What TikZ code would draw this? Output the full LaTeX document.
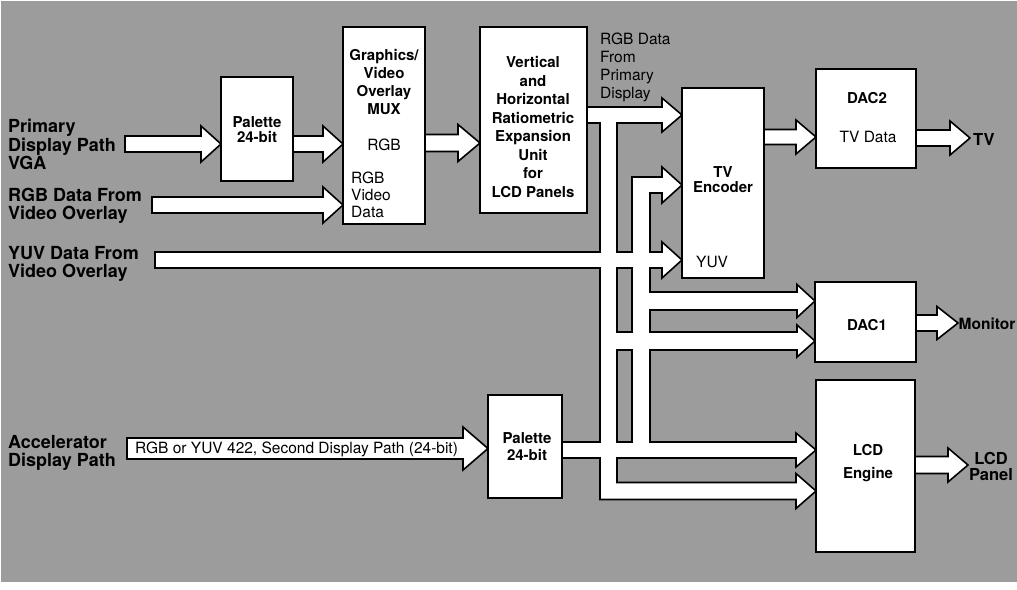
\documentclass[tikz,border=0pt]{standalone}
\usepackage{fontspec}
\setmainfont{TeX Gyre Heros}
\usetikzlibrary{calc}
\definecolor{ink}{RGB}{0,0,0}
\definecolor{paper}{RGB}{255,255,255}
\definecolor{screen}{RGB}{156,156,156}
\tikzset{
  blk/.style={inner sep=0pt, outer sep=0pt, anchor=north west},
  boxframe/.style={draw=ink, fill=paper, line width=1.6pt},
  simplearr/.style={draw=ink, fill=paper, line width=1.6pt, line join=miter},
  busfill/.style={fill=paper},
  busline/.style={draw=ink, line width=1.6pt, line join=miter},
  bt/.style={font=\fontsize{15}{18}\selectfont\bfseries, align=center, inner sep=0pt},
  nt/.style={font=\fontsize{15.5}{17}\selectfont, inner sep=0pt},
  lt/.style={font=\fontsize{18}{18.5}\selectfont\bfseries, align=left, inner sep=0pt, anchor=west},
  rt/.style={font=\fontsize{16.5}{16}\selectfont\bfseries, align=center, inner sep=0pt},
}
\newcommand{\arrshape}[5]{($(#1)+(0,-#3)$) -- ($(#2)+(-#5,-#3)$) -- ($(#2)+(-#5,-#4)$) -- (#2) -- ($(#2)+(-#5,#4)$) -- ($(#2)+(-#5,#3)$) -- ($(#1)+(0,#3)$) -- cycle}
\begin{document}
\begin{tikzpicture}[x=1pt,y=-1pt]
\useasboundingbox (0,0) rectangle (1017,589);
\fill[screen] (1,1) rectangle (1017,582);

% block geometry (frames drawn after the arrows)
\node[blk, minimum width=72, minimum height=104] (pal1) at (221,77) {};
\node[blk, minimum width=82, minimum height=197] (mux) at (343,27) {};
\node[blk, minimum width=107, minimum height=186] (exp) at (480,27) {};
\node[blk, minimum width=82, minimum height=190] (tvenc) at (682,88) {};
\node[blk, minimum width=100, minimum height=99] (dac2) at (816,69) {};
\node[blk, minimum width=101, minimum height=80] (dac1) at (815,282) {};
\node[blk, minimum width=99, minimum height=172] (lcd) at (816,380) {};
\node[blk, minimum width=74, minimum height=103] (pal2) at (488,395) {};

% y levels
\coordinate (y115) at (0,115);
\coordinate (y137) at (0,137);
\coordinate (y138) at (0,138);
\coordinate (y143) at (0,143);
\coordinate (y144) at (0,144);
\coordinate (y185) at (0,185);
\coordinate (y205) at (0,205);
\coordinate (y260) at (0,260);
\coordinate (y301) at (0,301);
\coordinate (y323) at (0,323);
\coordinate (y341) at (0,341);
\coordinate (y448) at (0,448.5);
\coordinate (y450) at (0,450);
\coordinate (y465) at (0,465);
\coordinate (y491) at (0,491);

% free ends and bus points
\coordinate (primS) at (125,144);
\coordinate (rgbS) at (152,205);
\coordinate (yuvS) at (155,260);
\coordinate (accS) at (127,448.5);
\coordinate (tvT) at (970,138);
\coordinate (monT) at (958,323);
\coordinate (panT) at (968,465);
\coordinate (b2tvS) at (632,185);
\coordinate (b2dS) at (641,301);
\coordinate (b1dS) at (608,341);
\coordinate (b1lS) at (600,491);
\coordinate (b1a) at (600,107);
\coordinate (b1b) at (617,499.5);
\coordinate (b2a) at (632,177);
\coordinate (b2b) at (650,458);

% bus arrow tips
\coordinate (T1) at (tvenc.west |- y115);
\coordinate (T2) at (tvenc.west |- y185);
\coordinate (T3) at (tvenc.west |- y260);
\coordinate (T4) at (dac1.west |- y301);
\coordinate (T5) at (dac1.west |- y341);
\coordinate (T6) at (lcd.west |- y450);
\coordinate (T7) at (lcd.west |- y491);

% simple block arrows
\path[simplearr] \arrshape{primS}{pal1.west |- y144}{8}{18}{20};
\path[simplearr] \arrshape{pal1.east |- y144}{mux.west |- y144}{8}{18}{20};
\path[simplearr] \arrshape{rgbS}{mux.west |- y205}{8}{18}{20};
\path[simplearr] \arrshape{mux.east |- y143}{exp.west |- y143}{8.5}{18.5}{22};
\path[simplearr] \arrshape{tvenc.east |- y137}{dac2.west |- y137}{7.5}{17}{20};
\path[simplearr] \arrshape{dac2.east |- y138}{tvT}{8}{17}{20};
\path[simplearr] \arrshape{dac1.east |- y323}{monT}{8}{16.5}{21};
\path[simplearr] \arrshape{lcd.east |- y465}{panT}{8.5}{17}{20};
\path[simplearr] \arrshape{accS}{pal2.west |- y448}{10.5}{21.5}{25};

% buses: white areas
\path[busfill] (b1a) rectangle (b1b);
\path[busfill] (b2a) rectangle (b2b);
\path[busfill] \arrshape{exp.east |- y115}{T1}{8}{17}{20};
\path[busfill] \arrshape{yuvS}{T3}{8}{18}{20};
\path[busfill] \arrshape{b2tvS}{T2}{8}{18}{20};
\path[busfill] \arrshape{b2dS}{T4}{9}{16.5}{18};
\path[busfill] \arrshape{b1dS}{T5}{9}{16}{18};
\path[busfill] \arrshape{pal2.east |- y450}{T6}{8}{17}{20};
\path[busfill] \arrshape{b1lS}{T7}{8.5}{17.5}{20};

% buses: outline of the merged white area
\path[busline] (587,107) -- (662,107) -- (662,98) -- (T1);
\path[busline] (T1) -- (662,132) -- (662,123) -- (617,123) -- (617,252) -- (632,252) -- (632,177) -- (662,177) -- (662,167) -- (T2);
\path[busline] (T2) -- (662,203) -- (662,193) -- (650,193) -- (650,252) -- (662,252) -- (662,242) -- (T3);
\path[busline] (T3) -- (662,278) -- (662,268) -- (650,268) -- (650,292) -- (797,292) -- (797,284.5) -- (T4);
\path[busline] (T4) -- (797,317.5) -- (797,310) -- (650,310) -- (650,332) -- (797,332) -- (797,325) -- (T5);
\path[busline] (T5) -- (797,357) -- (797,350) -- (650,350) -- (650,442) -- (796,442) -- (796,433) -- (T6);
\path[busline] (T6) -- (796,467) -- (796,458) -- (617,458) -- (617,482.5) -- (796,482.5) -- (796,473.5) -- (T7);
\path[busline] (587,123) -- (600,123) -- (600,252) -- (155,252) -- (155,268) -- (600,268) -- (600,442) -- (562,442);
\path[busline] (562,458) -- (600,458) -- (600,499.5) -- (796,499.5) -- (796,508.5) -- (T7);
\path[busline] (617,268) rectangle (632,332);
\path[busline] (617,350) rectangle (632,442);

% block frames
\foreach \n in {pal1,mux,exp,tvenc,dac2,dac1,lcd,pal2}
  \path[boxframe] (\n.north west) rectangle (\n.south east);

% texts in blocks
\node[bt, font=\fontsize{15}{15.5}\selectfont\bfseries] (tpal1) at (257,129.5) {Palette\\24-bit};
\node[bt] (tmux) at (384,82) {Graphics/\\Video\\Overlay\\MUX};
\node[nt] (tmuxrgb) at (384,145) {RGB};
\node[nt, anchor=west, align=left] (tmuxv) at (351,195) {RGB\\Video\\Data};
\node[bt, font=\fontsize{15}{18.57}\selectfont\bfseries] (texp) at (533,127) {Vertical\\and\\Horizontal\\Ratiometric\\Expansion\\Unit\\for\\LCD Panels};
\node[bt, font=\fontsize{15}{15}\selectfont\bfseries] (ttv) at (723,180) {TV\\Encoder};
\node[nt, anchor=west] (tyuv) at (696,262) {YUV};
\node[bt] (tdac2) at (867,98) {DAC2};
\node[nt] (ttvd) at (868,137) {TV Data};
\node[bt] (tdac1) at (867,325) {DAC1};
\node[bt, font=\fontsize{15}{23}\selectfont\bfseries] (tlcd) at (868,463.5) {LCD\\Engine};
\node[bt, font=\fontsize{15}{17}\selectfont\bfseries] (tpal2) at (527,446.5) {Palette\\24-bit};
\node[nt, anchor=west] (tacc) at (135,449) {RGB or YUV 422, Second Display Path (24-bit)};

% labels on the screened background
\node[lt] (lprim) at (8,144.5) {Primary\\Display Path\\VGA};
\node[lt] (lrgb) at (8,206) {RGB Data From\\Video Overlay};
\node[lt] (lyuv) at (8,264) {YUV Data From\\Video Overlay};
\node[lt] (lacc) at (8,453) {Accelerator\\Display Path};
\node[nt, anchor=west, align=left, font=\fontsize{15.5}{18}\selectfont] (lrgbp) at (600,67) {RGB Data\\From\\Primary\\Display};
\node[rt, anchor=west] (ltv) at (973,139) {TV};
\node[rt, anchor=west, font=\fontsize{15.5}{16}\selectfont\bfseries] (lmon) at (958.5,324) {Monitor};
\node[rt] (lpan) at (991,466) {LCD\\Panel};
\end{tikzpicture}
\end{document}
